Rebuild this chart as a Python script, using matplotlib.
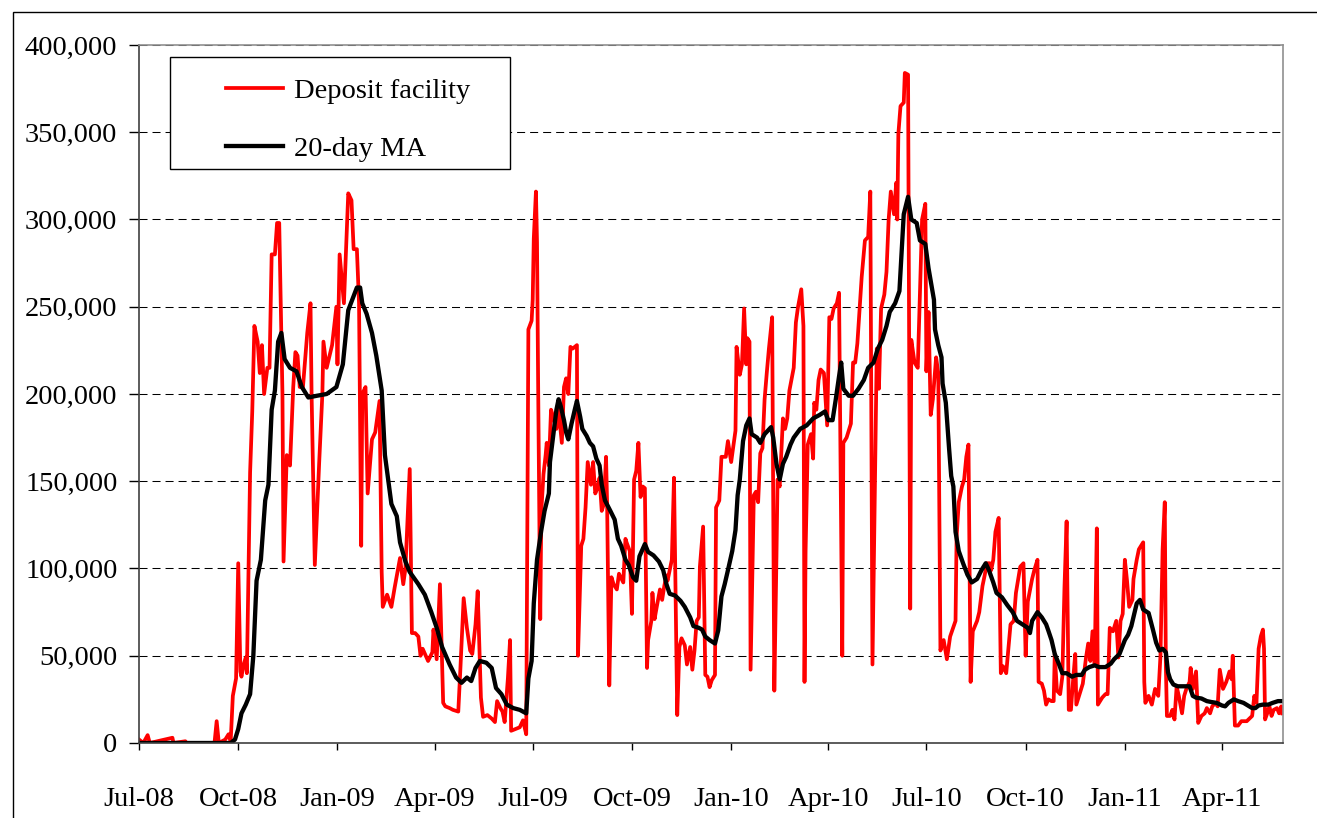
import numpy as np
import matplotlib.pyplot as plt
import matplotlib.dates as mdates
from matplotlib.patches import Rectangle
from matplotlib.ticker import FuncFormatter

plt.rcParams['font.family'] = ['Liberation Serif', 'DejaVu Serif']

##
# Data: EUR millions (in thousands), days counted from 1 Jul 2008
##
start = np.datetime64('2008-07-01')

dep_day = [0, 4, 8, 10, 31, 32, 43, 44, 70, 72, 74, 80, 83, 85, 87,
           90, 92, 94, 95, 97, 99, 100, 103, 105, 106, 107, 110, 112, 114, 116,
           119, 121, 123, 126, 128, 130, 133, 134, 137, 140, 143, 145, 147, 149, 152,
           156, 159, 160, 163, 167, 170, 171, 174, 179, 183, 184, 186, 190, 194, 197,
           199, 202, 204, 206, 207, 210, 212, 216, 219, 221, 223, 225, 226, 230, 234,
           237, 242, 245, 247, 251, 253, 256, 259, 261, 263, 268, 272, 273, 276, 279,
           282, 284, 288, 291, 296, 298, 301, 304, 307, 309, 312, 314, 317, 319, 323,
           327, 330, 332, 335, 337, 339, 342, 344, 345, 349, 353, 356, 359, 361, 364,
           365, 366, 368, 369, 370, 372, 373, 375, 377, 378, 380, 382, 384, 387, 389,
           392, 394, 396, 398, 400, 402, 406, 407, 410, 412, 414, 416, 419, 421, 423,
           425, 427, 429, 431, 433, 434, 436, 438, 440, 443, 445, 449, 451, 452, 455,
           457, 459, 461, 463, 465, 467, 469, 471, 472, 475, 476, 478, 480, 483, 485,
           487, 489, 490, 494, 496, 499, 501, 503, 506, 508, 511, 513, 515, 517, 519,
           520, 523, 525, 527, 529, 531, 534, 535, 538, 540, 544, 546, 549, 551, 553,
           554, 557, 559, 561, 563, 564, 566, 567, 570, 572, 574, 576, 578, 580, 582,
           584, 587, 589, 591, 592, 594, 597, 599, 601, 603, 607, 609, 611, 614, 616,
           617, 618, 620, 623, 625, 626, 628, 630, 632, 635, 638, 640, 642, 644, 647,
           649, 652, 653, 656, 660, 662, 664, 666, 670, 673, 676, 678, 680, 682, 684,
           686, 688, 691, 693, 695, 697, 700, 702, 703, 704, 706, 709, 710, 713, 715,
           716, 719, 722, 726, 729, 730, 732, 734, 736, 739, 741, 743, 746, 749, 752,
           757, 758, 760, 763, 765, 767, 769, 771, 773, 777, 779, 782, 784, 786, 789,
           790, 792, 794, 797, 799, 801, 804, 808, 811, 813, 817, 820, 822, 824, 828,
           830, 832, 833, 834, 837, 839, 841, 843, 846, 848, 849, 851, 854, 856, 858,
           860, 862, 864, 866, 868, 869, 872, 875, 878, 880, 882, 884, 886, 888, 889,
           893, 896, 898, 900, 903, 906, 908, 910, 912, 914, 916, 918, 921, 922, 925,
           927, 931, 932, 933, 936, 939, 942, 945, 947, 949, 951, 952, 953, 956, 958,
           960, 962, 964, 967, 969, 971, 974, 975, 977, 980, 982, 985, 988, 990, 993,
           995, 998, 1000, 1002, 1005, 1008, 1011, 1013, 1014, 1016, 1019, 1022, 1027, 1032, 1034,
           1036, 1038, 1040, 1042, 1043, 1044, 1046, 1048, 1050, 1052, 1055, 1057, 1059, 1060]
dep_k = [2, 0, 4.5, 0, 3, 0, 1, 0, 0, 12.5, 0, 2, 5, 1, 27,
         37, 103, 41, 38, 45, 49, 40, 155, 190, 215, 239, 230, 212, 228, 200,
         215, 215, 280, 280, 298, 298, 200, 104, 165, 159, 204, 224, 222, 204, 204,
         235, 252, 200, 102, 160, 200, 230, 215, 228, 250, 217, 280, 252, 315, 311,
         283, 283, 252, 113, 200, 204, 143, 174, 178, 187, 196, 98, 78, 85, 78,
         89, 106, 91, 100, 157, 63, 63, 61, 50, 54, 47, 52, 65, 48, 91,
         23, 21, 20, 19, 18, 43, 83, 66, 53, 51, 68, 87, 26, 15, 16,
         14, 12, 24, 20, 18, 12, 37, 59, 7, 8, 9, 13, 5, 237, 242,
         254, 289, 316, 287, 209, 71, 133, 154, 165, 172, 159, 191, 187, 180, 191,
         172, 204, 209, 200, 227, 226, 228, 50, 113, 117, 135, 161, 148, 161, 143,
         146, 152, 133, 137, 164, 137, 33, 95, 91, 88, 97, 92, 117, 115, 110,
         74, 151, 156, 172, 141, 147, 146, 43, 59, 70, 86, 71, 78, 88, 82,
         90, 96, 93, 105, 152, 16, 55, 60, 56, 45, 55, 42, 53, 70, 72,
         101, 124, 39, 38, 32, 36, 39, 135, 139, 164, 164, 173, 161, 170, 179,
         227, 211, 217, 249, 217, 232, 230, 42, 142, 144, 138, 166, 169, 197, 212,
         226, 244, 30, 107, 151, 147, 186, 180, 186, 202, 215, 241, 250, 260, 239,
         35, 110, 171, 177, 163, 195, 191, 208, 214, 212, 182, 244, 243, 249, 252,
         258, 50, 172, 175, 183, 218, 218, 229, 267, 288, 290, 316, 45, 136, 226,
         203, 249, 257, 270, 300, 316, 303, 321, 300, 349, 365, 367, 384, 383, 77,
         231, 218, 215, 300, 309, 213, 247, 188, 197, 221, 212, 53, 59, 48, 61,
         70, 118, 138, 147, 151, 164, 171, 35, 64, 70, 75, 90, 96, 103, 103,
         99, 105, 121, 129, 40, 44, 40, 68, 70, 86, 101, 103, 50, 81, 94,
         99, 103, 105, 35, 34, 30, 22, 25, 24, 24, 51, 30, 28, 38, 89,
         127, 19, 19, 36, 51, 22, 28, 34, 49, 57, 47, 64, 45, 123, 22,
         26, 28, 28, 66, 64, 70, 49, 70, 74, 105, 93, 78, 82, 94, 105,
         111, 115, 35, 23, 27, 22, 31, 27, 50, 111, 138, 44, 15.5, 15.5, 19,
         13.5, 32.5, 27, 17, 27, 31, 35, 43, 31, 41, 11.5, 15.5, 17, 20, 17,
         21, 23, 21, 42, 31, 35, 41, 36.5, 50, 10, 10, 12.5, 12.5, 15.5, 27,
         23, 54, 61, 65, 54, 13.5, 17, 21, 15.5, 19, 20, 17, 21, 17]

ma_day = [0, 85, 89, 92, 95, 99, 103, 106, 109, 113, 117, 120, 123, 126, 129,
          132, 135, 140, 146, 151, 157, 165, 174, 183, 189, 194, 202, 205, 207, 211,
          216, 220, 225, 228, 234, 239, 242, 247, 251, 259, 265, 271, 276, 281, 288,
          294, 299, 304, 308, 312, 316, 322, 327, 331, 336, 341, 347, 353, 359, 361,
          364, 366, 369, 372, 373, 376, 380, 381, 384, 387, 389, 391, 394, 396, 398,
          401, 404, 406, 409, 411, 415, 418, 421, 424, 427, 429, 432, 437, 441, 444,
          447, 451, 454, 458, 461, 464, 469, 472, 477, 482, 486, 489, 492, 497, 502,
          506, 511, 514, 519, 522, 525, 529, 534, 537, 540, 543, 546, 550, 553, 555,
          557, 560, 563, 566, 568, 573, 576, 580, 586, 588, 591, 594, 597, 600, 604,
          607, 613, 619, 625, 631, 636, 639, 643, 646, 649, 651, 653, 658, 662, 667,
          672, 676, 681, 685, 689, 693, 696, 701, 705, 709, 711, 713, 716, 721, 724,
          729, 732, 737, 738, 741, 744, 745, 748, 751, 753, 755, 757, 760, 764, 768,
          772, 777, 781, 785, 788, 792, 795, 800, 805, 810, 814, 819, 824, 826, 828,
          833, 837, 841, 843, 846, 849, 853, 856, 860, 865, 869, 874, 877, 881, 886,
          890, 896, 901, 904, 909, 914, 917, 920, 925, 928, 931, 936, 940, 943, 946,
          949, 952, 954, 956, 959, 963, 970, 974, 977, 980, 985, 990, 994, 999, 1004,
          1007, 1010, 1015, 1019, 1024, 1028, 1032, 1035, 1038, 1042, 1047, 1051, 1056, 1060]
ma_k = [0, 0, 2, 8, 17, 22, 28, 50, 93, 105, 139, 148, 191, 202, 230,
        235, 220, 215, 213, 204, 198, 199, 200, 204, 217, 248, 261, 261, 252, 246,
        235, 222, 202, 165, 137, 130, 115, 104, 98, 91, 85, 75, 66, 55, 45,
        37.5, 34.5, 37.5, 35.5, 43, 47, 46, 43, 31.5, 28, 22, 20, 19, 17, 37,
        47, 80, 105, 118, 122, 133, 143, 161, 176, 191, 197, 193, 185, 178, 174,
        183, 191, 196, 187, 180, 176, 172, 170, 163, 159, 148, 139, 133, 128, 117,
        113, 105, 102, 95, 93, 107, 114, 109.5, 107.5, 104, 99, 91, 85.5, 84.5, 81.5,
        78, 72, 67, 66, 65, 61, 59, 57, 64.5, 84, 91, 99, 110, 122, 142,
        151, 173, 182, 186, 177, 175, 172, 177, 181, 175, 160, 151, 160, 164, 171,
        175, 180, 182, 186, 188, 190, 185, 185, 197, 210, 218, 203, 199, 199, 203,
        208, 215, 218, 226, 231, 239, 247, 252, 259, 303, 308, 313, 300, 298, 288,
        286, 272, 254, 237, 228, 221, 206, 195, 169, 153, 147, 121, 110, 103, 96.5,
        92, 94, 99, 103, 99, 92, 86, 83.5, 79, 75, 70, 68, 66, 63, 70,
        75, 72, 68, 64.5, 59, 51, 45, 40, 40, 38, 39, 39, 42, 43.5, 44.5,
        43.5, 43.5, 45.5, 48, 51, 59, 62, 67, 80, 82, 76.5, 74.5, 65, 57.5, 53,
        54, 52, 40.5, 36.5, 33.5, 32.5, 32.5, 32.5, 27, 26, 25.5, 24, 23.5, 23, 21.5,
        21, 23, 25, 24, 23, 21.5, 20, 20, 21.5, 22, 22, 23, 24, 24]

series_names = ['Deposit facility', '20-day MA']
last_day = 1060.6

dep_dates = start + np.array(dep_day).astype('timedelta64[D]')
ma_dates = start + np.array(ma_day).astype('timedelta64[D]')
dep = np.array(dep_k) * 1000
ma = np.array(ma_k) * 1000

##
# Plot
##
fig = plt.figure(figsize=(13.17, 8.18), dpi=100)
ax = fig.add_axes([0.10554, 0.09169, 0.86864, 0.8533])

ax.plot(dep_dates, dep, color='#ff0000', lw=2.7, label=series_names[0], zorder=2)
ax.plot(ma_dates, ma, color='black', lw=3.1, label=series_names[1], zorder=2.5)

x0 = mdates.date2num(start.astype('datetime64[s]').item())
ax.set_xlim(x0, x0 + last_day)
ax.set_ylim(0, 400000)
ax.set_yticks(np.arange(0, 400001, 50000))
ax.yaxis.set_major_formatter(FuncFormatter(lambda v, p: f'{int(v):,}'))
ax.xaxis.set_major_locator(mdates.MonthLocator(bymonth=[1, 4, 7, 10]))
ax.xaxis.set_major_formatter(mdates.DateFormatter('%b-%y'))

ax.yaxis.grid(True, color='black', lw=0.75, linestyle=(0, (7.7, 4.8)), zorder=1)
ax.set_axisbelow(True)
ax.tick_params(axis='y', direction='out', length=7.5, width=1, pad=8, labelsize=20.5)
ax.tick_params(axis='x', direction='out', length=5, width=1, pad=27, labelsize=20.5)

for s in ['left', 'bottom']:
    ax.spines[s].set_color('#404040')
    ax.spines[s].set_linewidth(1.2)
for s in ['top', 'right']:
    ax.spines[s].set_color('#909090')
    ax.spines[s].set_linewidth(1.2)

# legend box drawn separately so its size matches the original
ax.add_patch(Rectangle((0.0271, 0.8224), 0.2972, 0.1604, transform=ax.transAxes,
                       facecolor='white', edgecolor='black', lw=1.0, zorder=3))
leg = ax.legend(loc='upper left', bbox_to_anchor=(0.0760, 0.953), frameon=False,
                fontsize=20.5, borderpad=0, borderaxespad=0, handlelength=2.0,
                handletextpad=0.4, labelspacing=1.15)
leg.set_zorder(4)

# outer frame of the original figure
fig.add_artist(Rectangle((12.5 / 1317, -0.05), 1.2, 1 - 11.5 / 818 + 0.05,
                         transform=fig.transFigure, fill=False, edgecolor='black',
                         lw=1.0, clip_on=False))

fig.savefig('out.png', dpi=100)
